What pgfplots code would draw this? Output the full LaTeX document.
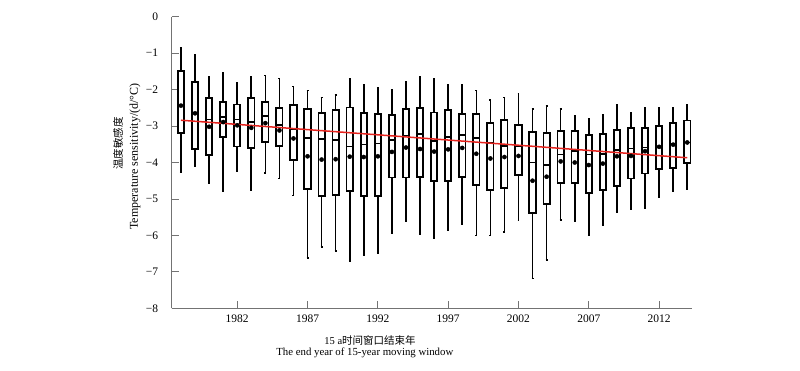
\documentclass[border=0pt]{standalone}
\usepackage{pgfplots}
\pgfplotsset{compat=1.18}
\usepackage{pgfplotstable}
\usepackage{fontspec}
\setmainfont{Liberation Serif}
\newfontfamily\cjk{Noto Sans CJK SC}
\definecolor{trendred}{RGB}{230,35,30}
\definecolor{axgray}{RGB}{115,115,115}

% pos = year - 1977
\pgfplotstableread{
pos year mean
1 1978 -2.44
2 1979 -2.65
3 1980 -3.02
4 1981 -2.89
5 1982 -2.98
6 1983 -3.05
7 1984 -2.92
8 1985 -3.12
9 1986 -3.34
10 1987 -3.83
11 1988 -3.92
12 1989 -3.91
13 1990 -3.84
14 1991 -3.85
15 1992 -3.83
16 1993 -3.71
17 1994 -3.59
18 1995 -3.63
19 1996 -3.70
20 1997 -3.64
21 1998 -3.60
22 1999 -3.76
23 2000 -3.89
24 2001 -3.85
25 2002 -3.82
26 2003 -4.50
27 2004 -4.39
28 2005 -3.97
29 2006 -4.00
30 2007 -4.07
31 2008 -4.03
32 2009 -3.83
33 2010 -3.82
34 2011 -3.69
35 2012 -3.57
36 2013 -3.51
37 2014 -3.45
}\meandata

\pgfplotsset{
  wsty/.style={black, solid, line width=1.6pt, mark=none},
  bsty/.style={black, solid, line width=1.8pt, mark=none, fill=white, line join=miter},
}
% B{pos}{lower whisker}{lower quartile}{median}{upper quartile}{upper whisker}
\newcommand{\B}[6]{%
  \pgfmathsetmacro\xa{#1-0.225}\pgfmathsetmacro\xb{#1+0.225}%
  \pgfmathsetmacro\ca{#1-0.07}\pgfmathsetmacro\cb{#1+0.07}%
  \edef\tmpbox{%
    \noexpand\addplot[wsty] coordinates {(#1,#5) (#1,#6)};
    \noexpand\addplot[wsty] coordinates {(\ca,#6) (\cb,#6)};
    \noexpand\addplot[wsty] coordinates {(#1,#3) (#1,#2)};
    \noexpand\addplot[wsty] coordinates {(\ca,#2) (\cb,#2)};
    \noexpand\addplot[bsty] coordinates {(\xa,#3) (\xb,#3) (\xb,#5) (\xa,#5) (\xa,#3)} --cycle;
    \noexpand\addplot[wsty] coordinates {(\xa,#4) (\xb,#4)};
  }%
  \tmpbox
}

\begin{document}
\begin{tikzpicture}
\begin{axis}[
  at={(0pt,0pt)}, anchor=south west,
  scale only axis, width=520.6pt, height=291.6pt,
  xmin=0.34, xmax=37.36, ymin=-8, ymax=0,
  axis lines=left,
  axis line style={-, axgray, line width=0.8pt},
  tick align=inside, major tick length=7pt,
  tick style={axgray, line width=0.8pt},
  xtick={5,10,15,20,25,30,35},
  xticklabels={1982,1987,1992,1997,2002,2007,2012},
  ytick={-8,-7,-6,-5,-4,-3,-2,-1,0},
  yticklabels={−8,−7,−6,−5,−4,−3,−2,−1,0},
  xticklabel style={font=\fontsize{11.5}{13}\selectfont, yshift=-3pt},
  yticklabel style={font=\fontsize{11.5}{13}\selectfont, xshift=-10pt},
  clip=false,
]
\B{1}{-4.27}{-3.18}{-2.44}{-1.50}{-0.86}
\B{2}{-4.09}{-3.64}{-2.65}{-1.80}{-1.05}
\B{3}{-4.56}{-3.80}{-2.82}{-2.24}{-1.64}
\B{4}{-4.80}{-3.29}{-2.75}{-2.35}{-1.55}
\B{5}{-4.25}{-3.56}{-2.82}{-2.41}{-1.82}
\B{6}{-4.75}{-3.60}{-2.89}{-2.24}{-1.65}
\B{7}{-4.29}{-3.43}{-2.73}{-2.35}{-1.61}
\B{8}{-4.44}{-3.55}{-2.97}{-2.50}{-1.70}
\B{9}{-4.91}{-3.94}{-3.08}{-2.43}{-1.91}
\B{10}{-6.62}{-4.73}{-3.32}{-2.53}{-2.03}
\B{11}{-6.32}{-4.91}{-3.36}{-2.65}{-2.22}
\B{12}{-6.43}{-4.89}{-3.39}{-2.57}{-2.14}
\B{13}{-6.71}{-4.78}{-3.56}{-2.49}{-1.71}
\B{14}{-6.53}{-4.93}{-3.51}{-2.65}{-1.86}
\B{15}{-6.49}{-4.91}{-3.48}{-2.67}{-1.94}
\B{16}{-5.95}{-4.41}{-3.39}{-2.69}{-2.00}
\B{17}{-5.61}{-4.41}{-3.26}{-2.54}{-1.78}
\B{18}{-5.97}{-4.39}{-3.21}{-2.51}{-1.66}
\B{19}{-6.08}{-4.51}{-3.41}{-2.63}{-1.69}
\B{20}{-5.86}{-4.50}{-3.30}{-2.57}{-1.87}
\B{21}{-5.68}{-4.39}{-3.25}{-2.66}{-1.88}
\B{22}{-6.00}{-4.61}{-3.32}{-2.67}{-2.03}
\B{23}{-6.00}{-4.75}{-3.45}{-2.92}{-2.29}
\B{24}{-5.91}{-4.71}{-3.55}{-2.84}{-2.22}
\B{25}{-5.59}{-4.34}{-3.56}{-2.98}{-2.12}
\B{26}{-7.18}{-5.38}{-4.00}{-3.16}{-2.53}
\B{27}{-6.68}{-5.14}{-4.07}{-3.20}{-2.45}
\B{28}{-5.57}{-4.56}{-3.78}{-3.13}{-2.53}
\B{29}{-5.61}{-4.56}{-3.69}{-3.13}{-2.73}
\B{30}{-6.00}{-4.83}{-3.78}{-3.24}{-2.81}
\B{31}{-5.72}{-4.76}{-3.77}{-3.21}{-2.69}
\B{32}{-5.36}{-4.65}{-3.66}{-3.10}{-2.42}
\B{33}{-5.29}{-4.44}{-3.62}{-3.05}{-2.65}
\B{34}{-5.25}{-4.30}{-3.59}{-3.05}{-2.49}
\B{35}{-4.95}{-4.18}{-3.57}{-3.00}{-2.49}
\B{36}{-4.79}{-4.14}{-3.50}{-2.91}{-2.51}
\B{37}{-4.73}{-4.02}{-3.45}{-2.85}{-2.41}
\addplot[trendred, line width=1.5pt, mark=none] coordinates {(1,-2.84) (37,-3.87)};
\addplot[only marks, mark=*, mark size=2.1pt, black, mark options={solid}] table[x=pos, y=mean] {\meandata};

\node[rotate=90, font=\fontsize{12}{14}\selectfont] at (axis description cs:-0.0705,0.52) {Temperature sensitivity/(d/°C)};
\node[rotate=90, font=\cjk\fontsize{10.5}{12}\selectfont] at (axis description cs:-0.1031,0.565) {温度敏感度};
\node[font=\fontsize{10.5}{12}\selectfont] at (axis description cs:0.381,-0.1097) {15 a{\cjk 时间窗口结束年}};
\node[font=\fontsize{10.8}{12}\selectfont] at (axis description cs:0.371,-0.1543) {The end year of 15-year moving window};
\end{axis}
\pgfresetboundingbox
\path (-171.7pt,-62.7pt) rectangle (628.3pt,308.3pt);
\end{tikzpicture}
\end{document}
